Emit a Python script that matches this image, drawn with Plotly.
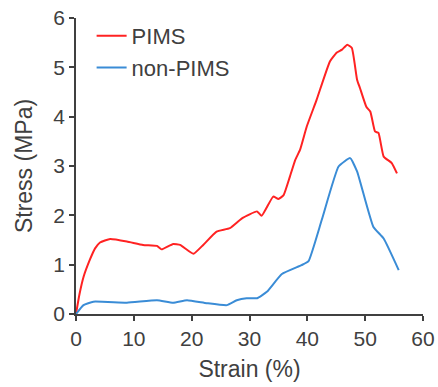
import plotly.graph_objects as go

pims_x = [0, 0.6, 1.3, 2.4, 3.3, 4.15, 5.9, 8.8, 11.6, 14.0, 14.8, 16.8, 18.0, 20.3, 22.0, 24.3, 26.6, 28.7,
          31.3, 32.1, 34.1, 35.0, 35.9, 37.0, 37.9, 38.75, 39.9, 41.6, 43.9, 45.1, 46.0, 46.9, 47.7,
          48.6, 49.1, 50.2, 50.9, 51.7, 52.3, 53.2, 54.6, 55.5]
pims_y = [0, 0.40, 0.75, 1.10, 1.33, 1.45, 1.52, 1.47, 1.40, 1.38, 1.31, 1.42, 1.40, 1.22, 1.40, 1.67, 1.74, 1.94,
          2.08, 1.99, 2.38, 2.33, 2.41, 2.79, 3.12, 3.33, 3.80, 4.34, 5.12, 5.30, 5.36, 5.46, 5.39,
          4.75, 4.58, 4.20, 4.10, 3.70, 3.67, 3.19, 3.06, 2.85]

non_x = [0, 1.3, 3.0, 8.8, 14.0, 16.8, 19.2, 22.6, 26.1, 27.8, 29.5, 31.3, 33.0, 35.6, 39.0, 40.2,
         42.5, 45.4, 47.4, 48.6, 51.4, 53.2, 55.8]
non_y = [0, 0.18, 0.25, 0.23, 0.28, 0.23, 0.28, 0.22, 0.18, 0.28, 0.32, 0.32, 0.45, 0.81, 0.99, 1.07,
         1.91, 2.99, 3.16, 2.89, 1.77, 1.53, 0.89]

x_ticks = [0, 10, 20, 30, 40, 50, 60]
y_ticks = [0, 1, 2, 3, 4, 5, 6]

fig = go.Figure()
fig.add_trace(go.Scatter(x=pims_x, y=pims_y, mode="lines", name="PIMS",
                         line=dict(color="#ff2222", width=2, shape="spline", smoothing=0.4)))
fig.add_trace(go.Scatter(x=non_x, y=non_y, mode="lines", name="non-PIMS",
                         line=dict(color="#3a8cd6", width=2, shape="spline", smoothing=0.4)))

axis_common = dict(showgrid=False, zeroline=False, showline=True, linecolor="#404040", linewidth=1.5,
                   ticks="outside", ticklen=5, tickwidth=1.5, tickcolor="#404040", automargin=False,
                   tickfont=dict(family="Liberation Sans, Arial", size=21, color="#404040"))

fig.update_layout(
    width=438, height=387,
    margin=dict(l=76, r=15, t=18, b=73),
    plot_bgcolor="white", paper_bgcolor="white",
    font=dict(family="Liberation Sans, Arial", color="#404040"),
    xaxis=dict(range=[0, 60], tickvals=x_ticks,
               title=dict(text="Strain (%)", font=dict(size=23), standoff=12), **axis_common),
    yaxis=dict(range=[0, 6], tickvals=y_ticks,
               title=dict(text="Stress (MPa)", font=dict(size=23), standoff=14), **axis_common),
    legend=dict(x=0.045, y=1.01, xanchor="left", yanchor="top", bgcolor="rgba(0,0,0,0)",
                font=dict(size=22, color="#404040"), tracegroupgap=0, itemwidth=30),
)

fig.write_html("out.html")
